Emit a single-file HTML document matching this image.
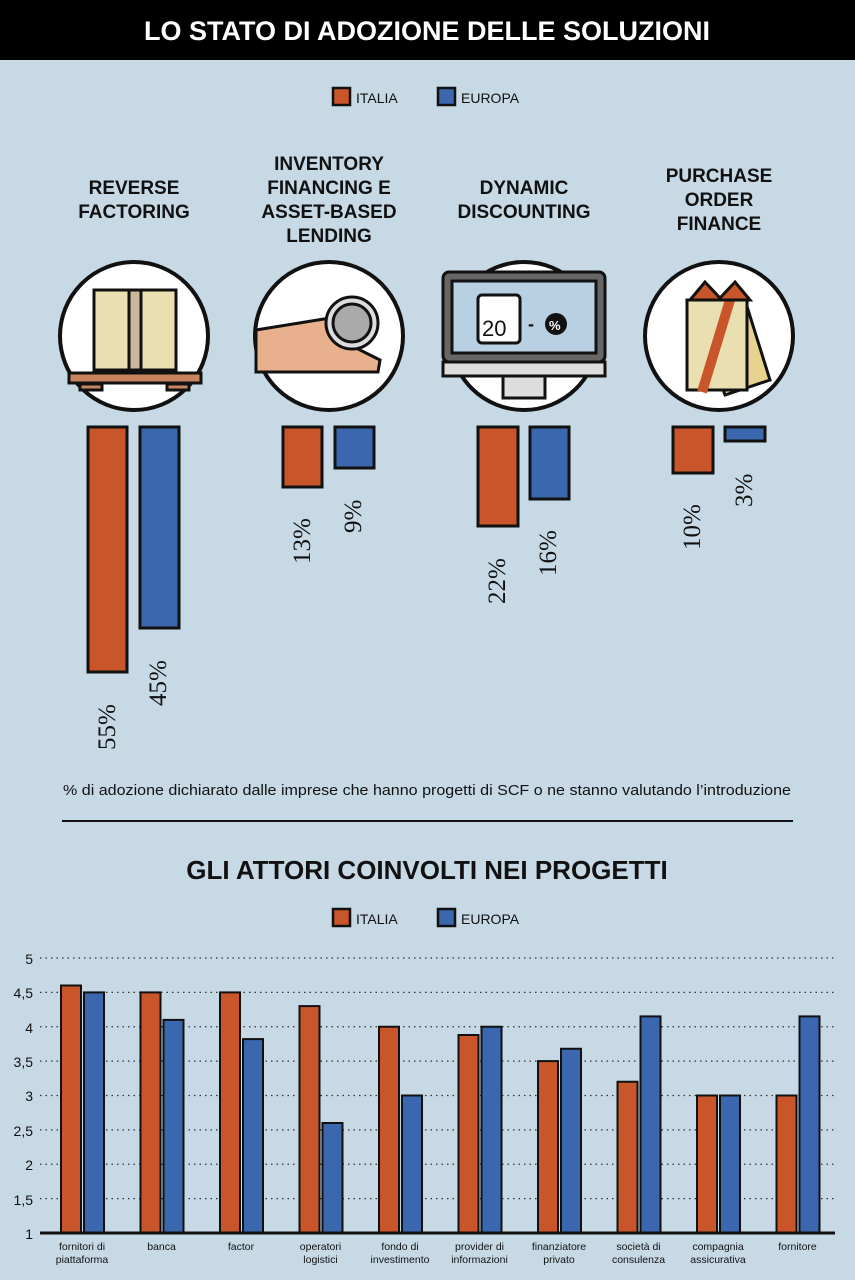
<!DOCTYPE html>
<html><head><meta charset="utf-8"><style>
body{margin:0;background:#c6d9e5;}
svg{display:block}
text{font-family:"Liberation Sans",sans-serif}
.t{font-weight:bold;font-size:19px;fill:#111;text-anchor:middle}
text.p{font-family:"Liberation Serif",serif;font-size:25px;fill:#111}
.ax{font-size:14px;fill:#111;text-anchor:end}
.xl{font-size:10.5px;fill:#111;text-anchor:middle}
</style></head><body>
<svg width="855" height="1280" viewBox="0 0 855 1280">
<rect width="855" height="1280" fill="#c6d9e5"/>
<rect width="855" height="60" fill="#000"/>
<text x="427" y="40" text-anchor="middle" font-size="27" font-weight="bold" fill="#fff">LO STATO DI ADOZIONE DELLE SOLUZIONI</text>
<rect x="333" y="88" width="17" height="17" fill="#c8562a" stroke="#111" stroke-width="2.5"/>
<text x="356" y="103" font-size="14" fill="#111">ITALIA</text>
<rect x="438" y="88" width="17" height="17" fill="#3a67ae" stroke="#111" stroke-width="2.5"/>
<text x="461" y="103" font-size="14" fill="#111">EUROPA</text>
<text class="t" x="134" y="194">REVERSE</text><text class="t" x="134" y="218">FACTORING</text>
<text class="t" x="329" y="170">INVENTORY</text><text class="t" x="329" y="194">FINANCING E</text><text class="t" x="329" y="218">ASSET-BASED</text><text class="t" x="329" y="242">LENDING</text>
<text class="t" x="524" y="194">DYNAMIC</text><text class="t" x="524" y="218">DISCOUNTING</text>
<text class="t" x="719" y="182">PURCHASE</text><text class="t" x="719" y="206">ORDER</text><text class="t" x="719" y="230">FINANCE</text>
<g stroke="#111" stroke-width="4">
<circle cx="134" cy="336" r="74" fill="#fff"/>
<circle cx="329" cy="336" r="74" fill="#fff"/>
<circle cx="524" cy="336" r="74" fill="#fff"/>
<circle cx="719" cy="336" r="74" fill="#fff"/>
</g>
<g stroke="#111" stroke-width="3">
<rect x="94" y="290" width="82" height="80" fill="#eadfb0"/>
<rect x="129" y="290" width="12" height="80" fill="#c9b99a"/>
<rect x="69" y="373" width="132" height="10" fill="#c8855e"/>
<rect x="80" y="384" width="22" height="6" fill="#c8855e"/>
<rect x="167" y="384" width="22" height="6" fill="#c8855e"/>
<path d="M256 330 L330 318 L350 345 L380 360 L378 372 L256 372 Z" fill="#e8b08c"/>
<circle cx="352" cy="323" r="26" fill="#ddd"/><circle cx="352" cy="323" r="19" fill="#aaa"/>
<rect x="443" y="272" width="162" height="90" rx="6" fill="#666"/>
<rect x="452" y="281" width="144" height="72" fill="#b9d0e3"/>
<rect x="443" y="362" width="162" height="14" fill="#ddd"/>
<rect x="503" y="376" width="42" height="22" fill="#ddd"/>
<rect x="478" y="295" width="42" height="48" rx="4" fill="#fff"/>
<path d="M697 315 L745 300 L770 380 L725 395 Z" fill="#e8d28f"/>
<rect x="687" y="300" width="60" height="90" fill="#eadfb0"/>
<path d="M702 392 L730 300" stroke="#c8562a" stroke-width="10"/>
<path d="M705 282 L720 298 L735 282 L750 300 L690 300 Z" fill="#c8562a"/>
</g>
<text x="482" y="336" font-family="Liberation Serif" font-size="22" fill="#111">20</text>
<text x="528" y="330" font-size="18" fill="#111" font-weight="bold">-</text>
<circle cx="556" cy="324" r="11" fill="#111"/><text x="549" y="330" font-size="13" fill="#fff" font-weight="bold">%</text>
<g stroke="#111" stroke-width="3">
<rect x="88" y="427" width="39" height="245" fill="#c8562a"/>
<rect x="140" y="427" width="39" height="201" fill="#3a67ae"/>
<rect x="283" y="427" width="39" height="60" fill="#c8562a"/>
<rect x="335" y="427" width="39" height="41" fill="#3a67ae"/>
<rect x="478" y="427" width="40" height="99" fill="#c8562a"/>
<rect x="530" y="427" width="39" height="72" fill="#3a67ae"/>
<rect x="673" y="427" width="40" height="46" fill="#c8562a"/>
<rect x="725" y="427" width="40" height="14" fill="#3a67ae"/>
</g>
<text class="p" transform="translate(115,750) rotate(-90)">55%</text>
<text class="p" transform="translate(166,706) rotate(-90)">45%</text>
<text class="p" transform="translate(310,564) rotate(-90)">13%</text>
<text class="p" transform="translate(361,533) rotate(-90)">9%</text>
<text class="p" transform="translate(505,604) rotate(-90)">22%</text>
<text class="p" transform="translate(556,576) rotate(-90)">16%</text>
<text class="p" transform="translate(700,550) rotate(-90)">10%</text>
<text class="p" transform="translate(752,507) rotate(-90)">3%</text>
<text x="427" y="795" text-anchor="middle" font-size="15" fill="#111" textLength="728" lengthAdjust="spacingAndGlyphs">% di adozione dichiarato dalle imprese che hanno progetti di SCF o ne stanno valutando l’introduzione</text>
<line x1="62" y1="821" x2="793" y2="821" stroke="#111" stroke-width="2"/>
<text x="427" y="879" text-anchor="middle" font-size="26" font-weight="bold" fill="#111">GLI ATTORI COINVOLTI NEI PROGETTI</text>
<rect x="333" y="909" width="17" height="17" fill="#c8562a" stroke="#111" stroke-width="2.5"/>
<text x="356" y="924" font-size="14" fill="#111">ITALIA</text>
<rect x="438" y="909" width="17" height="17" fill="#3a67ae" stroke="#111" stroke-width="2.5"/>
<text x="461" y="924" font-size="14" fill="#111">EUROPA</text>
<g stroke="#333" stroke-width="1.3" stroke-dasharray="1.5,4">
<line x1="40" x2="835" y1="958" y2="958"/><line x1="40" x2="835" y1="992.4" y2="992.4"/>
<line x1="40" x2="835" y1="1026.75" y2="1026.75"/><line x1="40" x2="835" y1="1061.1" y2="1061.1"/>
<line x1="40" x2="835" y1="1095.5" y2="1095.5"/><line x1="40" x2="835" y1="1129.9" y2="1129.9"/>
<line x1="40" x2="835" y1="1164.25" y2="1164.25"/><line x1="40" x2="835" y1="1198.6" y2="1198.6"/>
</g>
<g class="ax">
<text x="33" y="964">5</text><text x="33" y="998">4,5</text><text x="33" y="1033">4</text><text x="33" y="1067">3,5</text>
<text x="33" y="1101">3</text><text x="33" y="1136">2,5</text><text x="33" y="1170">2</text><text x="33" y="1205">1,5</text><text x="33" y="1239">1</text>
</g>
<g stroke="#111" stroke-width="2">
<rect x="61" y="985.5" width="20" height="247.5" fill="#c8562a"/><rect x="84" y="992.4" width="20" height="240.6" fill="#3a67ae"/>
<rect x="140.5" y="992.4" width="20" height="240.6" fill="#c8562a"/><rect x="163.5" y="1019.9" width="20" height="213.1" fill="#3a67ae"/>
<rect x="220" y="992.4" width="20" height="240.6" fill="#c8562a"/><rect x="243" y="1039.1" width="20" height="193.9" fill="#3a67ae"/>
<rect x="299.5" y="1006.1" width="20" height="226.9" fill="#c8562a"/><rect x="322.5" y="1123" width="20" height="110" fill="#3a67ae"/>
<rect x="379" y="1026.75" width="20" height="206.25" fill="#c8562a"/><rect x="402" y="1095.5" width="20" height="137.5" fill="#3a67ae"/>
<rect x="458.5" y="1035" width="20" height="198" fill="#c8562a"/><rect x="481.5" y="1026.75" width="20" height="206.25" fill="#3a67ae"/>
<rect x="538" y="1061.1" width="20" height="171.9" fill="#c8562a"/><rect x="561" y="1048.75" width="20" height="184.25" fill="#3a67ae"/>
<rect x="617.5" y="1081.75" width="20" height="151.25" fill="#c8562a"/><rect x="640.5" y="1016.4" width="20" height="216.6" fill="#3a67ae"/>
<rect x="697" y="1095.5" width="20" height="137.5" fill="#c8562a"/><rect x="720" y="1095.5" width="20" height="137.5" fill="#3a67ae"/>
<rect x="776.5" y="1095.5" width="20" height="137.5" fill="#c8562a"/><rect x="799.5" y="1016.4" width="20" height="216.6" fill="#3a67ae"/>
</g>
<line x1="40" x2="835" y1="1233" y2="1233" stroke="#111" stroke-width="3"/>
<g class="xl">
<text x="82" y="1250">fornitori di</text><text x="82" y="1263">piattaforma</text>
<text x="161.5" y="1250">banca</text>
<text x="241" y="1250">factor</text>
<text x="320.5" y="1250">operatori</text><text x="320.5" y="1263">logistici</text>
<text x="400" y="1250">fondo di</text><text x="400" y="1263">investimento</text>
<text x="479.5" y="1250">provider di</text><text x="479.5" y="1263">informazioni</text>
<text x="559" y="1250">finanziatore</text><text x="559" y="1263">privato</text>
<text x="638.5" y="1250">società di</text><text x="638.5" y="1263">consulenza</text>
<text x="718" y="1250">compagnia</text><text x="718" y="1263">assicurativa</text>
<text x="797.5" y="1250">fornitore</text>
</g>
</svg>
</body></html>
